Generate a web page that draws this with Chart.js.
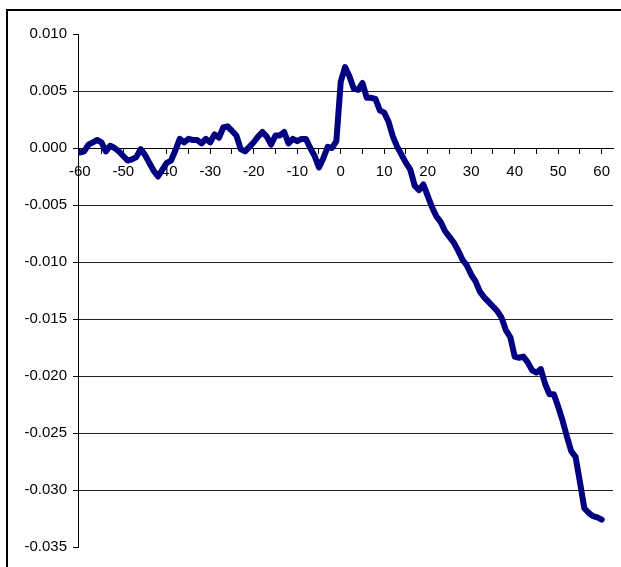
<!DOCTYPE html>
<html>
<head>
<meta charset="utf-8">
<script src="https://cdn.jsdelivr.net/npm/chart.js@4/dist/chart.umd.min.js"></script>
<style>
    html, body { margin: 0; padding: 0; background: #fff; }
    #wrap { width: 621px; height: 567px; position: relative; }
</style>
</head>
<body>
<div id="wrap"><canvas id="chart" width="621" height="567"></canvas></div>
<script>
// Lag (x) and value (y)
const lags = [
    -60, -59, -58, -57, -56, -55, -54, -53, -52, -51,
    -50, -49, -48, -47, -46, -45, -44, -43, -42, -41,
    -40, -39, -38, -37, -36, -35, -34, -33, -32, -31,
    -30, -29, -28, -27, -26, -25, -24, -23, -22, -21,
    -20, -19, -18, -17, -16, -15, -14, -13, -12, -11,
    -10, -9, -8, -7, -6, -5, -4, -3, -2, -1,
    0, 1, 2, 3, 4, 5, 6, 7, 8, 9,
    10, 11, 12, 13, 14, 15, 16, 17, 18, 19,
    20, 21, 22, 23, 24, 25, 26, 27, 28, 29,
    30, 31, 32, 33, 34, 35, 36, 37, 38, 39,
    40, 41, 42, 43, 44, 45, 46, 47, 48, 49,
    50, 51, 52, 53, 54, 55, 56, 57, 58, 59,
    60
];

const values = [
    -0.0004, -0.0003, 0.0003, 0.0005, 0.0007, 0.0005, -0.0003, 0.0002, 0.0000, -0.0003,
    -0.0007, -0.0011, -0.0010, -0.0008, -0.0001, -0.0006, -0.0013, -0.0020, -0.0025, -0.0019,
    -0.0013, -0.0011, -0.0002, 0.0008, 0.0005, 0.0008, 0.0007, 0.0007, 0.0004, 0.0008,
    0.0005, 0.0012, 0.0009, 0.0018, 0.0019, 0.0015, 0.0011, -0.0001, -0.0003, 0.0001,
    0.0005, 0.0010, 0.0014, 0.0010, 0.0003, 0.0011, 0.0011, 0.0014, 0.0004, 0.0008,
    0.0006, 0.0008, 0.0008, 0.0000, -0.0007, -0.0017, -0.0009, 0.0001, 0.0000, 0.0006,
    0.0058, 0.0071, 0.0063, 0.0052, 0.0051, 0.0057, 0.0044, 0.0044, 0.0043, 0.0033,
    0.0031, 0.0023, 0.0010, 0.0001, -0.0006, -0.0013, -0.0019, -0.0033, -0.0037, -0.0032,
    -0.0042, -0.0052, -0.0060, -0.0065, -0.0073, -0.0078, -0.0083, -0.0090, -0.0098, -0.0103,
    -0.0111, -0.0117, -0.0126, -0.0131, -0.0135, -0.0139, -0.0143, -0.0149, -0.0160, -0.0166,
    -0.0183, -0.0184, -0.0183, -0.0188, -0.0195, -0.0197, -0.0194, -0.0207, -0.0216, -0.0216,
    -0.0227, -0.0239, -0.0253, -0.0266, -0.0271, -0.0293, -0.0316, -0.0320, -0.0323, -0.0324,
    -0.0326
];

const xTicks = [-60, -55, -50, -45, -40, -35, -30, -25, -20, -15, -10, -5, 0,
    5, 10, 15, 20, 25, 30, 35, 40, 45, 50, 55, 60];
const yTicks = [-0.035, -0.030, -0.025, -0.020, -0.015, -0.010, -0.005, 0.000, 0.005, 0.010];

const tickFont = { family: '"Liberation Sans", Arial, sans-serif', size: 15 };

// outer frame (left and top edges are visible in the picture)
const framePlugin = {
    id: 'frame',
    beforeDraw(chart) {
        const ctx = chart.ctx;
        ctx.save();
        ctx.fillStyle = '#fff';
        ctx.fillRect(0, 0, chart.width, chart.height);
        ctx.strokeStyle = '#000';
        ctx.lineWidth = 2;
        ctx.beginPath();
        ctx.moveTo(7, chart.height + 2);
        ctx.lineTo(7, 10);
        ctx.lineTo(chart.width + 2, 10);
        ctx.stroke();
        ctx.restore();
    }
};

new Chart(document.getElementById('chart'), {
    type: 'line',
    data: {
        datasets: [{
            data: lags.map((x, i) => ({ x: x, y: values[i] })),
            borderColor: '#000080',
            borderWidth: 6,
            borderJoinStyle: 'round',
            borderCapStyle: 'round',
            pointRadius: 0,
            tension: 0,
            fill: false
        }]
    },
    options: {
        responsive: false,
        animation: false,
        events: [],
        layout: { padding: { left: 0, right: 8, top: 34, bottom: 20 } },
        plugins: {
            legend: { display: false },
            tooltip: { enabled: false }
        },
        scales: {
            x: {
                type: 'linear',
                position: { y: 0 },
                min: -60.4,
                max: 62.6,
                afterBuildTicks: s => { s.ticks = xTicks.map(v => ({ value: v })); },
                ticks: {
                    autoSkip: false,
                    maxRotation: 0,
                    padding: 10,
                    color: '#000',
                    font: tickFont,
                    callback: v => (v % 10 === 0 ? String(v) : '')
                },
                grid: {
                    drawOnChartArea: false,
                    drawTicks: true,
                    tickLength: 5,
                    tickColor: '#000'
                },
                border: { display: true, color: '#000', width: 1 }
            },
            y: {
                type: 'linear',
                min: -0.035,
                max: 0.010,
                afterFit: s => { s.width = 78; },
                afterBuildTicks: s => { s.ticks = yTicks.map(v => ({ value: v })); },
                ticks: {
                    padding: 6,
                    color: '#000',
                    font: tickFont,
                    callback: v => v.toFixed(3)
                },
                grid: {
                    color: c => (c.tick && (c.tick.value === 0.010 || c.tick.value === -0.035) ? 'rgba(0,0,0,0)' : '#222'),
                    tickColor: '#000',
                    tickLength: 5,
                    lineWidth: 1
                },
                border: { display: true, color: '#000', width: 1 }
            }
        }
    },
    plugins: [framePlugin]
});
</script>
</body>
</html>
